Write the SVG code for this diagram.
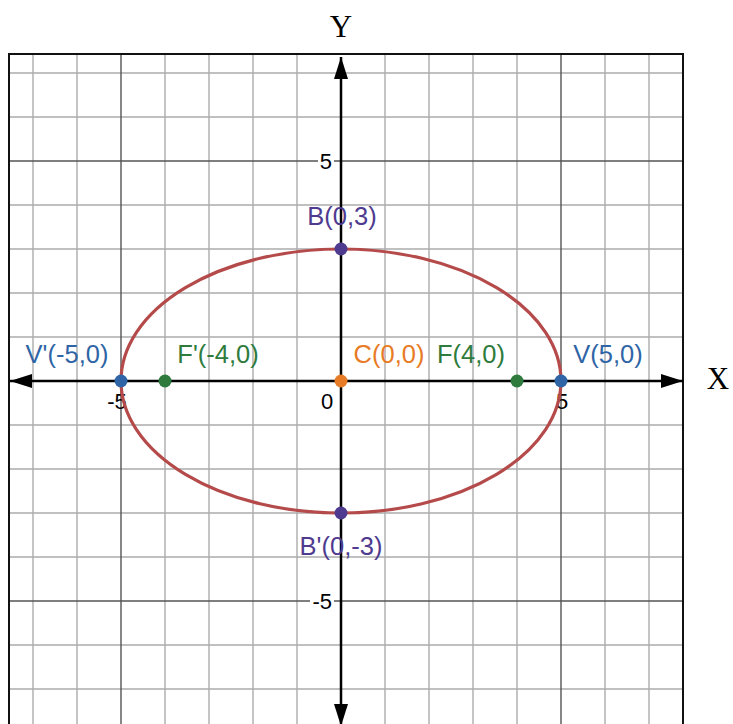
<svg xmlns="http://www.w3.org/2000/svg" width="733" height="724" viewBox="0 0 733 724">
<style>
.minor{stroke:#acacac;stroke-width:1.4;fill:none}
.major{stroke:#555;stroke-width:1.4;fill:none}
.axis{stroke:#000;stroke-width:2.5;fill:none}
.border{stroke:#111;stroke-width:2;fill:none}
.tick{font-family:"Liberation Sans",Arial,sans-serif;font-size:22px;fill:#000}
.lbl{font-family:"Liberation Sans",Arial,sans-serif;font-size:25.5px}
.ax{font-family:"Liberation Serif","Times New Roman",serif;font-size:31px;fill:#000}
.purple{fill:#4e3b8f}
.blue{fill:#2f65a6}
.green{fill:#2e7b3d}
.orange{fill:#e87b25}
</style>
<defs>
<marker id="arr" viewBox="0 0 22 14" refX="22" refY="7" markerWidth="22" markerHeight="14" markerUnits="userSpaceOnUse" orient="auto-start-reverse">
<path d="M0,0 L22,7 L0,14 Z" fill="#000"/>
</marker>
</defs>
<rect width="733" height="724" fill="#fff"/>
<g id="grid">
<path class="minor" d="M33,54V724M77,54V724M165,54V724M209,54V724M253,54V724M297,54V724M385,54V724M429,54V724M473,54V724M517,54V724M605,54V724M649,54V724"/>
<path class="minor" d="M9,73H683M9,117H683M9,205H683M9,249H683M9,293H683M9,337H683M9,425H683M9,469H683M9,513H683M9,557H683M9,645H683M9,689H683"/>
<path class="major" d="M121,54V724M561,54V724M9,161H683M9,601H683"/>
<path class="border" d="M9,724V54H683V724"/>
</g>
<g id="ticks">
<rect x="318" y="150" width="16" height="22" fill="#fff"/>
<text class="tick" x="332" y="169" text-anchor="end">5</text>
<rect x="310" y="590" width="24" height="22" fill="#fff"/>
<text class="tick" x="332" y="609" text-anchor="end">-5</text>
<text class="tick" x="117" y="409" text-anchor="middle">-5</text>
<text class="tick" x="327" y="409" text-anchor="middle">0</text>
<text class="tick" x="562" y="409" text-anchor="middle">5</text>
</g>
<g id="connectors">
<line class="axis" x1="341" y1="381" x2="10" y2="381" marker-end="url(#arr)"/>
<line class="axis" x1="341" y1="381" x2="683" y2="381" marker-end="url(#arr)"/>
<line class="axis" x1="341" y1="381" x2="341" y2="57" marker-end="url(#arr)"/>
<line class="axis" x1="341" y1="381" x2="341" y2="726" marker-end="url(#arr)"/>
</g>
<g id="ellipse">
<ellipse cx="341" cy="381" rx="220" ry="132" fill="none" stroke="#b54a4a" stroke-width="3.2"/>
</g>
<text class="ax" x="718" y="389" text-anchor="middle">X</text>
<text class="ax" x="341" y="37" text-anchor="middle">Y</text>
<g id="B">
<circle cx="341" cy="249" r="6.5" fill="#4e3b8f"/>
<text class="lbl purple" x="342" y="225" text-anchor="middle">B(0,3)</text>
</g>
<g id="Bp">
<circle cx="341" cy="513" r="6.5" fill="#4e3b8f"/>
<text class="lbl purple" x="341" y="555" text-anchor="middle">B'(0,-3)</text>
</g>
<g id="Vp">
<circle cx="121" cy="381" r="6.5" fill="#2f65a6"/>
<text class="lbl blue" x="67" y="363" text-anchor="middle">V'(-5,0)</text>
</g>
<g id="V">
<circle cx="561" cy="381" r="6.5" fill="#2f65a6"/>
<text class="lbl blue" x="608" y="363" text-anchor="middle">V(5,0)</text>
</g>
<g id="Fp">
<circle cx="165" cy="381" r="6.5" fill="#2e7b3d"/>
<text class="lbl green" x="218" y="363" text-anchor="middle">F'(-4,0)</text>
</g>
<g id="F">
<circle cx="517" cy="381" r="6.5" fill="#2e7b3d"/>
<text class="lbl green" x="471" y="363" text-anchor="middle">F(4,0)</text>
</g>
<g id="C">
<circle cx="341" cy="381" r="6.5" fill="#e87b25"/>
<text class="lbl orange" x="389" y="363" text-anchor="middle">C(0,0)</text>
</g>
</svg>
